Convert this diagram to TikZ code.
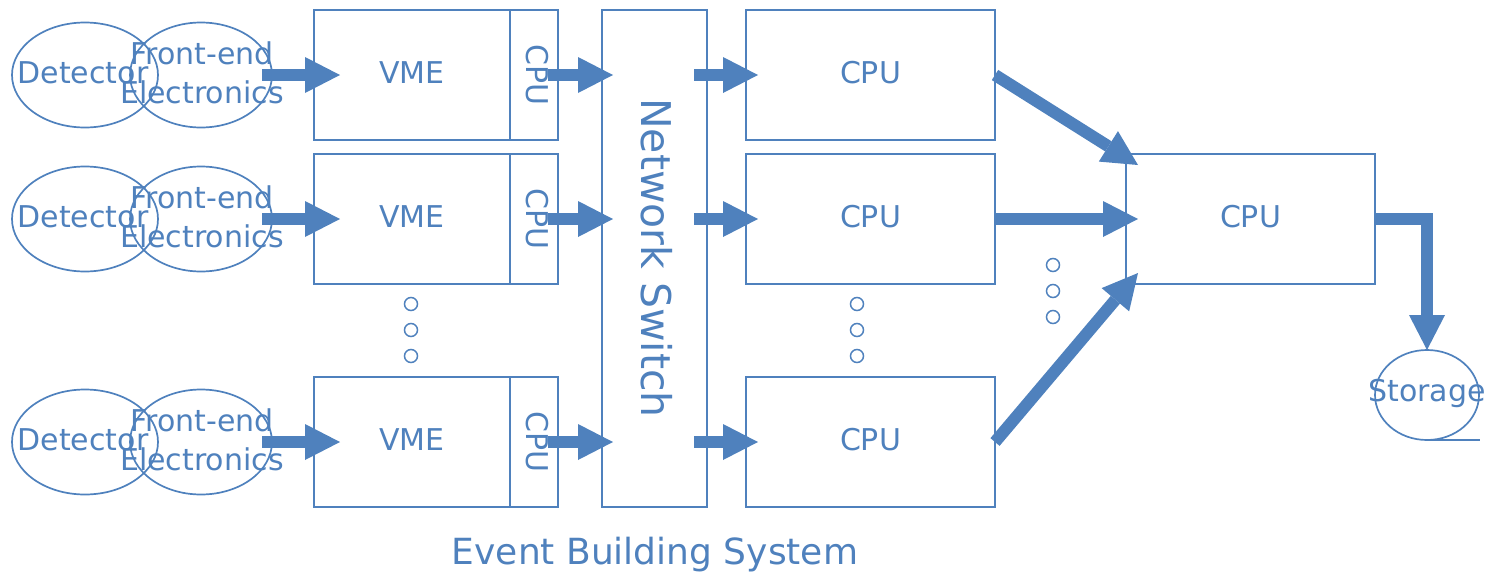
\documentclass[tikz,border=0pt]{standalone}
\usepackage{fontspec}
\setmainfont{DejaVu Sans}
\usetikzlibrary{arrows.meta,shapes.geometric}
\definecolor{obl}{HTML}{4F81BD}
\begin{document}
\begin{tikzpicture}[x=1pt,y=-1pt,
  box/.style={draw=obl,line width=1.7pt,inner sep=0pt,outer sep=0pt},
  oval/.style={draw=obl,line width=1.7pt,ellipse,inner sep=0pt,outer sep=0pt},
  lbl/.style={text=obl,inner sep=0pt,font=\fontsize{30}{39}\selectfont,align=center},
  dotc/.style={draw=obl,line width=1.5pt,circle,minimum size=13pt,inner sep=0pt},
  fat/.style={draw=obl,line width=12pt,line join=miter,
    -{Triangle[length=35pt,width=36pt,line width=0pt]}}]
\useasboundingbox (0,0) rectangle (1494,576);

% rows
\foreach \i/\y in {1/75,2/219,3/442}{
  \node[oval,minimum width=146pt,minimum height=105pt] (det\i) at (85,\y) {};
  \node[oval,minimum width=142pt,minimum height=105pt] (fe\i) at (201,\y) {};
  \node[lbl] (dett\i) at (83,\y-2) {Detector};
  \node[lbl] (fet\i) at (202,\y-2) {Front-end\\Electronics};
  \node[box,minimum width=196pt,minimum height=130pt] (vme\i) at (412,\y) {};
  \node[lbl] (vmet\i) at (412,\y-2) {VME};
  \node[box,minimum width=48pt,minimum height=130pt] (cpuv\i) at (534,\y) {};
  \node[lbl,rotate=-90] (cpuvt\i) at (537,\y) {CPU};
  \node[box,minimum width=249pt,minimum height=130pt] (cpu\i) at (870.5,\y) {};
  \node[lbl] (cput\i) at (870.5,\y-2) {CPU};
}

% network switch
\node[box,minimum width=105pt,minimum height=497pt] (sw) at (654.5,258.5) {};
\node[lbl,rotate=-90,font=\fontsize{41}{48}\selectfont] (swt) at (657,258) {Network Switch};

% big CPU
\node[box,minimum width=249pt,minimum height=130pt] (big) at (1250.5,219) {};
\node[lbl] (bigt) at (1250.5,217) {CPU};

% storage
\node[oval,minimum width=104pt,minimum height=90pt] (st) at (1427,395) {};
\node[lbl] (stt) at (1427,393) {Storage};
\coordinate (sttail) at (1480,440);
\draw[obl,line width=1.7pt] (st.south) -- (sttail);

% dots
\foreach \k/\y in {1/304,2/330,3/356}{
  \node[dotc] (dv\k) at (411,\y) {};
  \node[dotc] (dc\k) at (857,\y) {};
}
\foreach \k/\y in {1/265,2/291,3/317}{
  \node[dotc] (da\k) at (1053,\y) {};
}

% arrows
\foreach \i in {1,2,3}{
  \draw[fat] ([xshift=-52pt]vme\i.west) -- ([xshift=26pt]vme\i.west);
  \coordinate (swin\i) at (sw.west |- cpuv\i.east);
  \coordinate (swout\i) at (sw.east |- cpu\i.west);
  \draw[fat] ([xshift=-10pt]cpuv\i.east) -- ([xshift=11pt]swin\i);
  \draw[fat] ([xshift=-13pt]swout\i) -- ([xshift=12pt]cpu\i.west);
}
\draw[fat] (cpu1.east) -- ([xshift=12pt,yshift=-11pt]big.north west);
\draw[fat] (cpu2.east) -- ([xshift=12pt]big.west);
\draw[fat] (cpu3.east) -- ([xshift=12pt,yshift=11pt]big.south west);
\draw[fat] (big.east) -| (st.north);

% title
\node[lbl,font=\fontsize{36}{40}\selectfont] (title) at (655,555) {Event Building System};
\end{tikzpicture}
\end{document}
